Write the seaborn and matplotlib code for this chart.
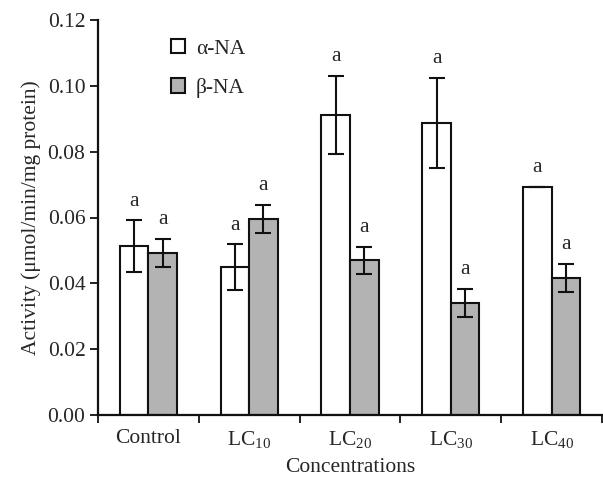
import matplotlib
matplotlib.use("Agg")
import matplotlib.pyplot as plt
import seaborn as sns
import pandas as pd
import numpy as np

categories = ["Control", "LC$_{10}$", "LC$_{20}$", "LC$_{30}$", "LC$_{40}$"]
series = ["α-NA", "β-NA"]
alpha_mean = [0.0512, 0.0449, 0.0912, 0.0886, 0.0692]
alpha_err = [0.0079, 0.0069, 0.0118, 0.0137, 0.0]
beta_mean = [0.0492, 0.0595, 0.0470, 0.0340, 0.0416]
beta_err = [0.0043, 0.0042, 0.0041, 0.0042, 0.0042]
sig_alpha = ["a", "a", "a", "a", "a"]
sig_beta = ["a", "a", "a", "a", "a"]
yticks = [0.00, 0.02, 0.04, 0.06, 0.08, 0.10, 0.12]

sns.set_style("ticks")
plt.rcParams["font.family"] = ["Liberation Serif", "DejaVu Serif"]
plt.rcParams["mathtext.fontset"] = "custom"
plt.rcParams["mathtext.rm"] = "Liberation Serif"
plt.rcParams["mathtext.default"] = "regular"

FS = 15.5

df = pd.DataFrame({
    "cat": categories * 2,
    "series": [series[0]] * 5 + [series[1]] * 5,
    "val": alpha_mean + beta_mean,
})

fig = plt.figure(figsize=(6.03, 4.79), dpi=100)
ax = fig.add_axes([98/603, 1 - 415/479, (602-98)/603, (415-20)/479])

sns.barplot(data=df, x="cat", y="val", hue="series", order=categories,
            hue_order=series, palette=["white", "#b3b3b3"], width=0.566,
            errorbar=None, edgecolor="#111111", linewidth=1.5, ax=ax, legend=True)

bars = [p for p in ax.patches if p.get_width() > 0 and p.get_height() > 0]
bars = sorted(bars, key=lambda p: p.get_x())
vals_ordered = []
for i in range(5):
    vals_ordered.append((alpha_mean[i], alpha_err[i], sig_alpha[i]))
    vals_ordered.append((beta_mean[i], beta_err[i], sig_beta[i]))
for p, (m, e, s) in zip(bars, vals_ordered):
    xc = p.get_x() + p.get_width() / 2
    ax.errorbar(xc, m, yerr=e, fmt="none", ecolor="#111111", elinewidth=1.5,
                capsize=6, capthick=1.5)
    ax.text(xc, m + e + 0.0030, s, ha="center", va="bottom", fontsize=FS)

ax.set_ylim(0, 0.12)
ax.set_xlim(-0.5, 4.5)
ax.set_yticks(yticks)
ax.set_yticklabels([f"{v:.2f}" for v in yticks], fontsize=FS)
ax.set_xticks(np.arange(-0.5, 5.0, 1.0))
ax.set_xticklabels([])
ax.set_xticks(np.arange(5), minor=True)
ax.set_xticklabels(categories, minor=True, fontsize=FS)
ax.tick_params(axis="x", which="minor", length=0, pad=10)
ax.tick_params(axis="both", which="major", length=6, width=1.3, direction="out", color="#111111")
ax.tick_params(axis="y", pad=3)
for sp in ["left", "bottom"]:
    ax.spines[sp].set_linewidth(1.6)
    ax.spines[sp].set_color("#111111")
sns.despine(ax=ax)

ax.set_xlabel("Concentrations", fontsize=FS, labelpad=6)
ax.set_ylabel("Activity (μmol/min/mg protein)", fontsize=FS, labelpad=5)

leg = ax.legend(loc="upper left", bbox_to_anchor=(0.115, 0.99), frameon=False,
                fontsize=FS, handlelength=0.65, handleheight=0.65,
                labelspacing=0.9, handletextpad=0.5, borderaxespad=0.3)

fig.savefig("out.png", dpi=100)
